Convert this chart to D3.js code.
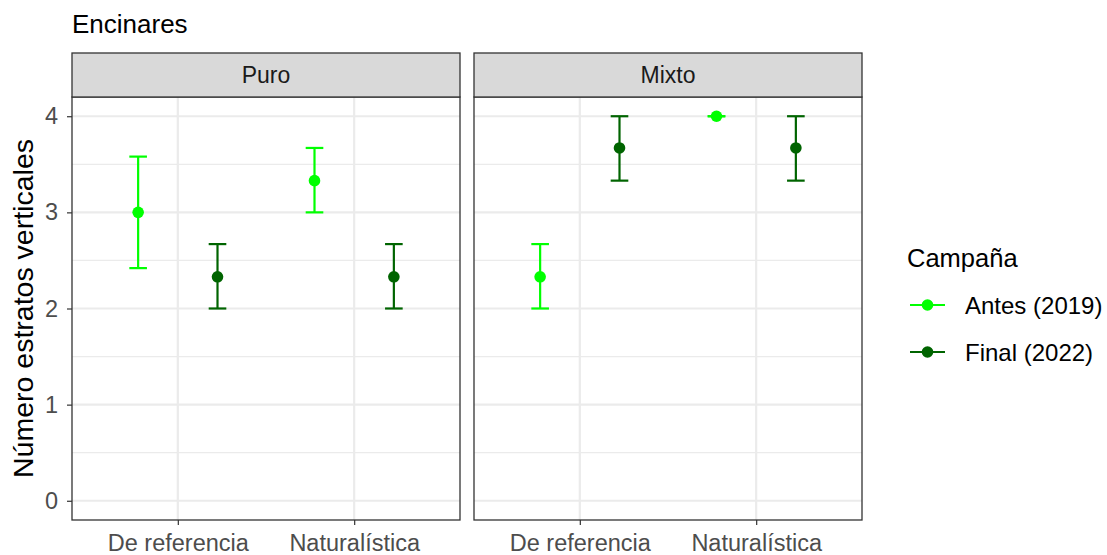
<!DOCTYPE html>
<html lang="en">
<head>
<meta charset="UTF-8">
<title>Encinares</title>
<script src="https://d3js.org/d3.v7.min.js"></script>
<style>
body { margin: 0; background: #fff; }
text { font-family: "Liberation Sans", Arial, sans-serif; }
.tick text { fill: #4d4d4d; }
.tick line { stroke: #333; stroke-width: 1.2; }
.domain { display: none; }
</style>
</head>
<body>
<script>
// data
var panels = ["Puro", "Mixto"];
var categories = ["De referencia", "Naturalística"];
var campaigns = ["Antes (2019)", "Final (2022)"];
var colors = ["#00ff00", "#006400"];
var yTicks = [0, 1, 2, 3, 4];

// mean, lower, upper per category (one array per panel and campaign)
var puroAntes  = [[3.00, 2.42, 3.58], [3.33, 3.00, 3.67]];
var puroFinal  = [[2.33, 2.00, 2.67], [2.33, 2.00, 2.67]];
var mixtoAntes = [[2.33, 2.00, 2.67], [4.00, 4.00, 4.00]];
var mixtoFinal = [[3.67, 3.33, 4.00], [3.67, 3.33, 4.00]];

var rows = [];
[[puroAntes, puroFinal], [mixtoAntes, mixtoFinal]].forEach(function(p, pi) {
    p.forEach(function(series, si) {
        series.forEach(function(v, ci) {
            rows.push({panel: panels[pi], cat: categories[ci], camp: campaigns[si],
                       mean: v[0], lo: v[1], hi: v[2]});
        });
    });
});

var width = 1107, height = 555;
var svg = d3.select("body").append("svg")
    .attr("width", width).attr("height", height);

var plotTop = 97, plotBottom = 520;
var panelX = [72, 474], panelW = 388;
var stripH = 44;

var y = d3.scaleLinear().domain([-0.2, 4.2]).range([plotBottom, plotTop]);
var color = d3.scaleOrdinal().domain(campaigns).range(colors);

// title
svg.append("text").attr("x", 72).attr("y", 33)
    .attr("font-size", 26).attr("fill", "#000").text("Encinares");

// y label
svg.append("text")
    .attr("transform", "translate(33," + ((plotTop + plotBottom) / 2) + ") rotate(-90)")
    .attr("text-anchor", "middle").attr("font-size", 28.5).attr("fill", "#000")
    .text("Número estratos verticales");

var dodge = 0.45, capW = 0.1;

panels.forEach(function(pn, pi) {
    var x0 = panelX[pi];
    var x = d3.scaleLinear().domain([0.4, 2.6]).range([x0, x0 + panelW]);
    var g = svg.append("g");

    // grid
    var minor = [0.5, 1.5, 2.5, 3.5];
    g.selectAll(".minor").data(minor).enter().append("line")
        .attr("x1", x0).attr("x2", x0 + panelW)
        .attr("y1", function(d) { return y(d); }).attr("y2", function(d) { return y(d); })
        .attr("stroke", "#ebebeb").attr("stroke-width", 1.2);
    g.selectAll(".major").data(yTicks).enter().append("line")
        .attr("x1", x0).attr("x2", x0 + panelW)
        .attr("y1", function(d) { return y(d); }).attr("y2", function(d) { return y(d); })
        .attr("stroke", "#ebebeb").attr("stroke-width", 2.2);
    g.selectAll(".vmajor").data([1, 2]).enter().append("line")
        .attr("y1", plotTop).attr("y2", plotBottom)
        .attr("x1", function(d) { return x(d); }).attr("x2", function(d) { return x(d); })
        .attr("stroke", "#ebebeb").attr("stroke-width", 2.2);

    // error bars and points
    var data = rows.filter(function(r) { return r.panel === pn; });
    var pos = function(r) {
        return categories.indexOf(r.cat) + 1 + (campaigns.indexOf(r.camp) === 0 ? -dodge / 2 : dodge / 2);
    };
    var eb = g.selectAll(".eb").data(data).enter().append("g")
        .attr("stroke", function(r) { return color(r.camp); })
        .attr("stroke-width", 2.2);
    eb.append("line")
        .attr("x1", function(r) { return x(pos(r)); }).attr("x2", function(r) { return x(pos(r)); })
        .attr("y1", function(r) { return y(r.lo); }).attr("y2", function(r) { return y(r.hi); });
    eb.append("line")
        .attr("x1", function(r) { return x(pos(r) - capW / 2); }).attr("x2", function(r) { return x(pos(r) + capW / 2); })
        .attr("y1", function(r) { return y(r.lo); }).attr("y2", function(r) { return y(r.lo); });
    eb.append("line")
        .attr("x1", function(r) { return x(pos(r) - capW / 2); }).attr("x2", function(r) { return x(pos(r) + capW / 2); })
        .attr("y1", function(r) { return y(r.hi); }).attr("y2", function(r) { return y(r.hi); });
    g.selectAll(".pt").data(data).enter().append("circle")
        .attr("cx", function(r) { return x(pos(r)); })
        .attr("cy", function(r) { return y(r.mean); })
        .attr("r", 5.8).attr("fill", function(r) { return color(r.camp); });

    // panel border
    g.append("rect").attr("x", x0).attr("y", plotTop).attr("width", panelW).attr("height", plotBottom - plotTop)
        .attr("fill", "none").attr("stroke", "#333").attr("stroke-width", 1.3);

    // strip
    g.append("rect").attr("x", x0).attr("y", plotTop - stripH).attr("width", panelW).attr("height", stripH)
        .attr("fill", "#d9d9d9").attr("stroke", "#333").attr("stroke-width", 1.3);
    g.append("text").attr("x", x0 + panelW / 2).attr("y", plotTop - stripH / 2 + 8)
        .attr("text-anchor", "middle").attr("font-size", 23).attr("fill", "#1a1a1a").text(pn);

    // x axis
    var xPoint = d3.scalePoint().domain(categories).range([x(1), x(2)]);
    svg.append("g").attr("transform", "translate(0," + plotBottom + ")")
        .call(d3.axisBottom(xPoint).tickSize(5).tickPadding(9))
        .selectAll(".tick text").style("font-size", "23.5px");
});

// y axis
svg.append("g").attr("transform", "translate(" + panelX[0] + ",0)")
    .call(d3.axisLeft(y).tickValues(yTicks).tickFormat(d3.format("d")).tickSize(5).tickPadding(9))
    .selectAll(".tick text").style("font-size", "23.5px");

// legend
var lg = svg.append("g").attr("transform", "translate(907,0)");
lg.append("text").attr("x", 0).attr("y", 267).attr("font-size", 25.5).attr("fill", "#000").text("Campaña");
var items = lg.selectAll(".it").data(campaigns).enter().append("g")
    .attr("transform", function(d, i) { return "translate(0," + (305 + i * 47) + ")"; });
items.append("line").attr("x1", 3).attr("x2", 38).attr("y1", 0).attr("y2", 0)
    .attr("stroke", function(d) { return color(d); }).attr("stroke-width", 2.2);
items.append("circle").attr("cx", 20.5).attr("cy", 0).attr("r", 5.8)
    .attr("fill", function(d) { return color(d); });
items.append("text").attr("x", 58).attr("y", 8.5).attr("font-size", 24).attr("fill", "#000")
    .text(function(d) { return d; });
</script>
</body>
</html>
